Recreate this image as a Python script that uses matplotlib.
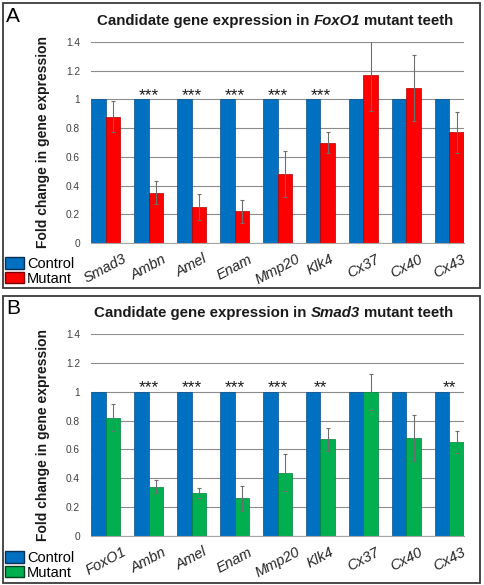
import matplotlib
matplotlib.use('Agg')
import matplotlib.pyplot as plt
from matplotlib.patches import Patch, Rectangle
from matplotlib.ticker import FuncFormatter

plt.rcParams['font.family'] = ['Liberation Sans', 'DejaVu Sans']

# data
genes_a = ['Smad3', 'Ambn', 'Amel', 'Enam', 'Mmp20', 'Klk4', 'Cx37', 'Cx40', 'Cx43']
control_a = [1, 1, 1, 1, 1, 1, 1, 1, 1]
mutant_a = [0.88, 0.35, 0.25, 0.22, 0.48, 0.70, 1.17, 1.08, 0.77]
err_a = [0.11, 0.08, 0.09, 0.08, 0.16, 0.07, 0.25, 0.23, 0.14]
stars_a = ['', '***', '***', '***', '***', '***', '', '', '']

genes_b = ['FoxO1', 'Ambn', 'Amel', 'Enam', 'Mmp20', 'Klk4', 'Cx37', 'Cx40', 'Cx43']
control_b = [1, 1, 1, 1, 1, 1, 1, 1, 1]
mutant_b = [0.82, 0.34, 0.30, 0.26, 0.44, 0.67, 1.00, 0.68, 0.65]
err_b = [0.095, 0.045, 0.035, 0.085, 0.13, 0.08, 0.125, 0.16, 0.078]
stars_b = ['', '***', '***', '***', '***', '**', '', '', '**']

W, H = 484, 585
BLUE = '#0070C0'
RED = '#FF0000'
GREEN = '#00B050'
w = 0.34

fig = plt.figure(figsize=(W / 100, H / 100), dpi=100)


def title_parts(fig, xc, yc, parts, size=10.8):
    # bold title with one italic word, laid out piece by piece
    r = fig.canvas.get_renderer()
    probe1 = fig.text(0, 0, 'x x', fontsize=size, weight='bold')
    probe2 = fig.text(0, 0, 'xx', fontsize=size, weight='bold')
    gap = probe1.get_window_extent(r).width - probe2.get_window_extent(r).width
    probe1.remove()
    probe2.remove()
    texts = []
    for s, st in parts:
        t = fig.text(0, 1 - yc / H, s, fontsize=size, weight='bold', style=st,
                     va='center', ha='left', color='#1a1a1a')
        texts.append(t)
    widths = [t.get_window_extent(r).width for t in texts]
    total = sum(widths) + gap * (len(texts) - 1)
    x = xc - total / 2
    for t, tw in zip(texts, widths):
        t.set_x(x / W)
        x += tw + gap


def panel(rect, genes, control, mutant, err, stars, mcolor, medge):
    ax = fig.add_axes(rect)
    x = range(len(genes))
    xc = [i - w / 2 for i in x]
    xm = [i + w / 2 for i in x]
    ax.bar(xc, control, width=w, color=BLUE, edgecolor='#0a4f8a', linewidth=0.5, zorder=2)
    ax.bar(xm, mutant, width=w, color=mcolor, edgecolor=medge, linewidth=0.5, zorder=2)
    ax.errorbar(xm, mutant, yerr=err, fmt='none', ecolor='#6e6e6e', elinewidth=0.8,
                capsize=1.6, capthick=0.8, zorder=3)
    for i, s in zip(x, stars):
        if s:
            ax.text(i, 0.995, s, ha='center', va='baseline', fontsize=12.5, color='#1a1a1a')
    ax.set_xlim(-w, len(genes) - 1 + w)
    ax.set_ylim(0, 1.4)
    ax.set_yticks([0, 0.2, 0.4, 0.6, 0.8, 1.0, 1.2, 1.4])
    ax.yaxis.set_major_formatter(FuncFormatter(lambda v, p: '%g' % round(v, 1)))
    ax.grid(axis='y', color='#8c8c8c', linewidth=0.8)
    ax.set_axisbelow(True)
    for s in ['left', 'top', 'right']:
        ax.spines[s].set_visible(False)
    ax.spines['bottom'].set_color('#a6a6a6')
    ax.tick_params(axis='y', length=0, labelsize=7.3, labelcolor='#404040', pad=8)
    ax.tick_params(axis='x', length=0, pad=6.5)
    ax.set_xticks(list(x))
    ax.set_xticklabels(genes, fontsize=10.5, style='italic', rotation=28,
                       ha='center', va='top', color='#262626')
    ax.set_ylabel('Fold change in gene expression', fontsize=10, weight='bold',
                  color='#1a1a1a', labelpad=11)
    return ax


# panel frames
fig.patches.append(Rectangle((3 / W, 1 - 288 / H), 477 / W, 285 / H, transform=fig.transFigure,
                             fill=False, edgecolor='#3a3a3a', linewidth=1.3))
fig.patches.append(Rectangle((3 / W, 1 - 583 / H), 477 / W, 287 / H, transform=fig.transFigure,
                             fill=False, edgecolor='#3a3a3a', linewidth=1.3))

ax_a = panel([91 / W, 1 - 243 / H, 373 / W, 201 / H], genes_a, control_a, mutant_a, err_a,
             stars_a, RED, '#b00000')
ax_b = panel([91 / W, 1 - 536 / H, 373 / W, 202 / H], genes_b, control_b, mutant_b, err_b,
             stars_b, GREEN, '#00803a')

fig.text(13 / W, 1 - 16 / H, 'A', fontsize=15, ha='center', va='center')
fig.text(13 / W, 1 - 308 / H, 'B', fontsize=15, ha='center', va='center')

title_parts(fig, 275, 21, [('Candidate gene expression in', 'normal'), ('FoxO1', 'italic'),
                           ('mutant teeth', 'normal')])
title_parts(fig, 274, 313, [('Candidate gene expression in', 'normal'), ('Smad3', 'italic'),
                            ('mutant teeth', 'normal')])

for ytop, mcolor, medge in [(257, RED, '#7a0000'), (551, GREEN, '#00401d')]:
    handles = [Patch(facecolor=BLUE, edgecolor='#0b2f55', linewidth=1.0, label='Control'),
               Patch(facecolor=mcolor, edgecolor=medge, linewidth=1.0, label='Mutant')]
    fig.legend(handles=handles, loc='upper left', bbox_to_anchor=(5 / W, 1 - ytop / H),
               frameon=False, fontsize=10.5, handlelength=1.3, handleheight=0.85,
               handletextpad=0.2, labelspacing=0.05, borderpad=0, borderaxespad=0)

fig.savefig('out.png', dpi=100)
